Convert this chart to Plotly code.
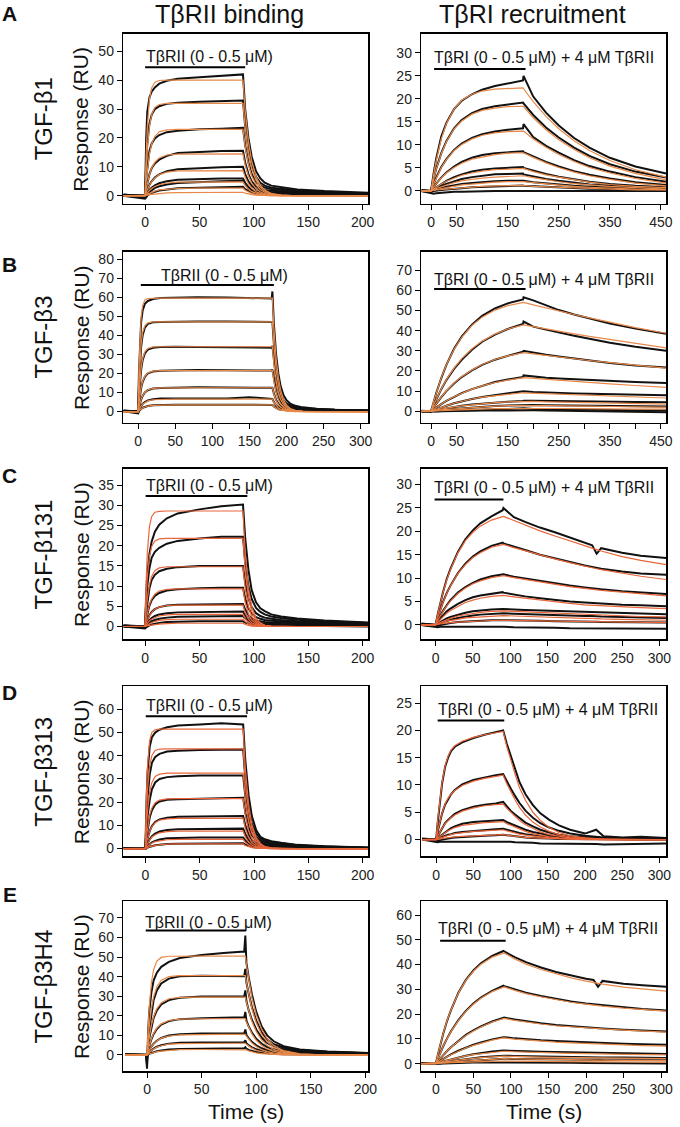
import plotly.graph_objects as go

# ------------------------------------------------------------------ data
# time grids (s)
GL = [-20, 0, 1, 2, 4, 6, 9, 13, 20, 30, 50, 70, 90, 92, 95, 98, 102, 106, 110, 116, 125, 140, 165, 205]
GB = [-20, 0, 1, 2, 4, 6, 9, 13, 20, 30, 50, 80, 120, 150, 180, 181, 183, 186, 189, 192, 196, 200, 205, 212, 222, 240, 265, 310]
GE = [-20, -1, 0, 0.5, 1, 2, 4, 6, 9, 13, 20, 30, 50, 70, 89, 90, 91, 93, 96, 100, 105, 110, 116, 125, 140, 165, 205]
GR450 = [-19, 0, 5, 10, 20, 30, 45, 60, 80, 100, 125, 150, 180, 181, 200, 225, 250, 280, 310, 350, 400, 460]
GR300 = [-19, 0, 3, 6, 10, 15, 20, 30, 40, 50, 60, 75, 90, 91, 105, 120, 140, 160, 180, 200, 210, 216, 222, 250, 275, 309]
GRD = [-19, 0, 2, 5, 8, 12, 16, 20, 25, 35, 50, 65, 80, 90, 95, 100, 106, 112, 120, 130, 140, 152, 165, 180, 200, 215, 225, 250, 275, 309]
GRE = [-19, 0, 3, 6, 10, 15, 20, 30, 40, 50, 60, 75, 90, 91, 105, 120, 140, 160, 180, 200, 210, 216, 222, 250, 275, 307]

# --- A: TGF-b1, TbRII binding
A1_fit = [
    [0,0,14.5,23.7,33.4,37.3,39.3,39.9,40,40,40,40,40,29.6,18.9,12.0,6.6,3.6,2.0,0.8,0.2,0,0,0],
    [0,0,9.4,16.1,24.1,28.1,30.6,31.6,32,32,32,32,32,23.7,15.1,9.6,5.3,2.9,1.6,0.6,0.2,0,0,0],
    [0,0,5.1,9.0,14.5,17.9,20.6,22.1,22.8,23,23,23,23,17.0,10.9,6.9,3.8,2.1,1.2,0.5,0.1,0,0,0],
    [0,0,2.4,4.4,7.4,9.6,11.6,13.1,14.1,14.4,14.5,14.5,14.5,10.7,6.8,4.4,2.4,1.3,0.7,0.3,0.1,0,0,0],
    [0,0,1.1,2.1,3.7,4.9,6.2,7.3,8.2,8.6,8.7,8.7,8.7,6.4,4.1,2.6,1.4,0.8,0.4,0.2,0,0,0,0],
    [0,0,.5,1.0,1.8,2.5,3.2,3.8,4.4,4.7,4.8,4.8,4.8,3.6,2.3,1.4,.8,.4,.2,.1,0,0,0,0],
    [0,0,.3,.5,.9,1.3,1.6,2.0,2.3,2.5,2.6,2.6,2.6,1.9,1.2,.8,.4,.2,.1,0,0,0,0,0],
    [0,0,.1,.2,.4,.5,.7,.9,1.0,1.1,1.2,1.2,1.2,.9,.6,.4,.2,.1,.1,0,0,0,0,0],
]
A1_obs = [
    [0.3,0,20,29,34,36,37.5,38.8,39.8,40.5,41,41.5,42,30,20,13.5,8.5,6,4.5,3.5,3,2.2,1.6,1.0],
    [0.3,0,11,18,25,28,30,31,31.8,32.2,32.5,32.8,33,24,16,10.5,6.5,4.5,3.5,2.8,2.4,1.8,1.3,0.8],
    [0.3,0,6,10,15.5,18,19.8,21,22,22.5,23,23.2,23.5,17.5,11.5,7.5,4.8,3.5,2.8,2.3,2,1.5,1.1,0.7],
    [0.2,0,2.5,4.5,7.5,9.5,11.2,12.5,13.8,14.8,15.2,15.5,15.6,11.5,7.5,5,3.2,2.5,2,1.7,1.5,1.2,0.9,0.6],
    [0.2,0,1.2,2.2,3.8,5,6.3,7.4,8.5,9.2,9.6,9.9,10,7.5,5,3.4,2.3,1.8,1.5,1.3,1.1,0.9,0.7,0.5],
    [0.2,-0.5,0.5,1.1,2,2.8,3.6,4.3,5,5.5,5.8,6,6,4.5,3,2.1,1.5,1.2,1,0.9,0.8,0.7,0.5,0.4],
    [0.1,-0.8,-0.2,0.5,1.3,2,2.7,3.3,3.9,4.4,4.8,5,5.2,3.9,2.6,1.9,1.3,1.1,0.9,0.8,0.7,0.6,0.4,0.3],
    [0,-1,-0.6,0,0.6,1,1.4,1.8,2.2,2.6,2.8,3,3.1,2.3,1.6,1.1,0.8,0.6,0.5,0.4,0.4,0.3,0.2,0.1],
]
# --- A: TGF-b1, TbRI recruitment
A2_fit = [
    [0,0,3.6,6.6,11.3,14.6,17.8,19.7,21.0,21.7,22.1,22.3,22.4,22.2,19.4,16.2,13.5,10.9,8.8,6.6,4.6,3.0],
    [0,0,2.5,4.7,8.1,10.7,13.5,15.2,16.7,17.5,18.0,18.3,18.4,18.3,15.9,13.3,11.1,9.0,7.2,5.4,3.8,2.4],
    [0,0,1.5,2.8,5.1,6.8,8.8,10.1,11.3,12.1,12.6,12.9,13.1,13.0,11.3,9.5,7.9,6.4,5.1,3.9,2.7,1.7],
    [0,0,.8,1.6,2.8,3.9,5.1,6.0,6.9,7.4,7.9,8.2,8.4,8.3,7.3,6.1,5.1,4.1,3.3,2.5,1.7,1.1],
    [0,0,.4,.8,1.5,2.1,2.8,3.4,3.9,4.3,4.6,4.8,4.9,4.9,4.2,3.5,3.0,2.4,1.9,1.4,1.0,.7],
    [0,0,.3,.5,1.0,1.3,1.8,2.2,2.5,2.8,3.0,3.2,3.3,3.3,2.9,2.4,2.0,1.6,1.3,1.0,.7,.4],
    [0,0,.2,.3,.6,.8,1.1,1.3,1.5,1.7,1.9,2.0,2.1,2.0,1.8,1.5,1.2,1.0,.8,.6,.4,.3],
    [0,0,.1,.2,.3,.4,.6,.7,.9,1.0,1.1,1.1,1.2,1.2,1.0,.9,.7,.6,.5,.4,.2,.2],
]
A2_obs = [
    [0.2,0,3.8,7,11.8,14.8,17.8,19.6,21,22,22.8,23.3,24,25,20.5,17,14.2,11.5,9.4,7.2,5.3,3.8],
    [0.1,0,2.6,4.8,8.2,10.8,13.6,15.4,16.9,17.8,18.4,18.8,19.2,19,16.5,13.8,11.6,9.4,7.6,5.8,4.2,2.9],
    [0.1,0,1.5,2.9,5.2,6.9,8.9,10.3,11.5,12.3,12.9,13.3,13.6,14.5,11.7,9.8,8.3,6.7,5.4,4.2,3.0,2.0],
    [0,0,.8,1.6,2.9,4.0,5.3,6.3,7.2,7.8,8.2,8.4,8.6,8.4,7.5,6.3,5.3,4.3,3.5,2.7,1.9,1.3],
    [0,0,.4,.8,1.6,2.2,3.0,3.6,4.2,4.6,4.9,5.1,5.2,5.0,4.4,3.7,3.1,2.5,2.0,1.5,1.1,.8],
    [0,0,.3,.6,1.1,1.5,2.1,2.6,3.0,3.3,3.6,3.7,3.8,3.6,3.1,2.6,2.2,1.8,1.4,1.1,.8,.5],
    [0,0,.2,.3,.6,.9,1.2,1.5,1.7,1.9,2.1,2.2,2.3,2.2,1.9,1.6,1.3,1.1,.9,.7,.5,.3],
    [0,-.3,0,.1,.2,.3,.5,.6,.8,.9,1,1.1,1.2,1.1,1,.8,.7,.6,.5,.4,.3,.2],
    [0,-.5,-.6,-.5,-.4,-.3,-.2,-.2,-.1,0,0,0,0,0,0,0,0,0,0,0,0,0],
]
# --- B: TGF-b3, TbRII binding
B1_fit = [
    [0,0,21.5,35.3,49.7,55.5,58.5,59.3,59.5,59.5,59.5,59.5,59.5,59.5,59.5,59.5,44.1,28.1,17.9,11.4,6.2,3.5,1.6,0.6,0.1,0,0,0],
    [0,0,13.9,23.6,35.4,41.3,45.0,46.5,47,47,47,47,47,47,47,47,34.8,22.2,14.1,9.0,4.9,2.7,1.3,0.5,0.1,0,0,0],
    [0,0,8.3,14.6,22.9,27.7,31.3,33.1,33.9,34,34,34,34,34,34,34,25.2,16.0,10.2,6.5,3.6,2.0,0.9,0.3,0.1,0,0,0],
    [0,0,4.2,7.7,12.6,15.8,18.5,20.3,21.2,21.5,21.5,21.5,21.5,21.5,21.5,21.5,15.9,10.1,6.5,4.1,2.3,1.2,0.6,0.2,0,0,0,0],
    [0,0,2.1,3.8,6.4,8.3,10.0,11.3,12.2,12.4,12.5,12.5,12.5,12.5,12.5,12.5,9.3,5.9,3.8,2.4,1.3,0.7,0.3,0.1,0,0,0,0],
    [0,0,0.9,1.7,2.9,3.9,4.8,5.6,6.2,6.4,6.5,6.5,6.5,6.5,6.5,6.5,4.8,3.1,2.0,1.2,0.7,0.4,0.2,0.1,0,0,0,0],
    [0,0,0.4,0.8,1.4,1.9,2.4,2.9,3.2,3.4,3.5,3.5,3.5,3.5,3.5,3.5,2.6,1.7,1.1,0.7,0.4,0.2,0.1,0,0,0,0,0],
]
B1_obs = [
    [0.5,0,20,33,47,53,56.5,58,59,59.5,59.8,60,59.8,59.6,59.3,63,46,30,20,13.5,8.5,6,4.2,3,2.2,1.5,1,0.6],
    [0.4,0,13,22.5,34,40,44,46,46.8,47,47.2,47.3,47.2,47.1,47,47,35.5,23,15,10,6,4.3,3.2,2.4,1.8,1.3,0.9,0.5],
    [0.3,0,8,14,22,27,30.5,32.5,33.5,33.8,34,33.8,33.6,33.4,33.5,34.5,26,17,11,7.5,4.8,3.4,2.6,2,1.5,1.1,0.8,0.5],
    [0.3,0,4,7.5,12.3,15.5,18.2,20,21,21.4,21.6,21.8,21.7,21.6,21.5,22,16.5,10.8,7.2,5,3.3,2.5,2,1.6,1.2,0.9,0.6,0.4],
    [0.2,0,2,3.7,6.3,8.2,10,11.2,12.1,12.4,12.6,12.7,12.6,12.5,12.4,12.5,9.5,6.2,4.2,2.8,2,1.6,1.3,1.1,0.9,0.7,0.5,0.3],
    [0.2,0,1,1.8,3,4,5,5.8,6.5,6.8,6.9,6.8,6.9,7.5,6.8,6.6,5,3.3,2.3,1.6,1.2,1,0.8,0.7,0.6,0.5,0.4,0.3],
    [0.2,-1,0.3,0.8,1.4,2,2.5,2.9,3.3,3.5,3.6,3.6,3.6,3.6,3.5,3.5,2.7,1.8,1.3,1,0.8,0.7,0.6,0.5,0.4,0.3,0.3,0.2],
]
# --- B: TGF-b3, TbRI recruitment
B2_fit = [
    [0,0,4.8,9.1,16.7,23.1,30.8,36.7,42.6,46.7,50.2,52.4,54.1,54.0,52.8,51.2,49.7,48.0,46.3,44.1,41.5,38.7],
    [0,0,3.1,5.9,11.1,15.7,21.4,26.1,31.0,34.8,38.3,40.8,42.9,42.9,42.0,40.8,39.7,38.4,37.2,35.6,33.7,31.5],
    [0,0,2.0,3.8,7.2,10.2,14.0,17.2,20.5,23.2,25.7,27.5,29.1,29.1,28.5,27.7,26.9,26.1,25.2,24.1,22.8,21.4],
    [0,0,1.0,1.9,3.6,5.2,7.2,9.0,11.0,12.6,14.3,15.5,16.7,16.7,16.3,15.8,15.3,14.8,14.3,13.6,12.8,11.9],
    [0,0,.5,1.0,2.0,2.8,4.0,5.0,6.1,7.0,7.8,8.5,9.2,9.2,9.0,8.7,8.5,8.2,7.9,7.5,7.1,6.6],
    [0,0,.3,.6,1.1,1.6,2.2,2.7,3.3,3.8,4.3,4.7,5.0,5.0,4.9,4.7,4.6,4.4,4.3,4.1,3.8,3.6],
    [0,0,.2,.3,.7,.9,1.3,1.6,2.0,2.3,2.6,2.8,3.0,3.0,2.9,2.8,2.8,2.7,2.6,2.4,2.3,2.1],
    [0,0,.1,.2,.3,.5,.7,.8,1.0,1.1,1.3,1.4,1.5,1.5,1.5,1.4,1.4,1.3,1.3,1.2,1.1,1.1],
]
B2_obs = [
    [0.3,0,4.5,9,16.5,23,31,37,43,47.3,51,53.5,55.5,56.5,55,52.5,50.2,48,46,43.5,41,38.5],
    [0.2,0,3,5.8,11,15.5,21,25.5,30.5,34.5,38,40.8,43.3,44.5,42,40.5,39,37.5,36,34,32,30],
    [0.2,0,2,3.8,7,10,13.8,17,20.3,23,25.6,27.5,29.5,30,29,28,27.2,26.2,25.2,24,22.7,21.7],
    [0.1,0,1,2,3.6,5.2,7.2,9,11,12.7,14.5,15.8,17,17.8,17.2,16.7,16.3,15.9,15.5,15,14.5,14],
    [0.1,0,.5,1,2,2.8,4,5,6.1,7.1,8,8.8,9.6,10,9.6,9.3,9.1,8.9,8.7,8.5,8.2,8],
    [0,0,.3,.6,1.1,1.6,2.2,2.8,3.4,3.9,4.4,4.8,5.1,5.3,5.2,5.1,5,4.9,4.8,4.7,4.6,4.5],
    [0,0,.2,.3,.7,.9,1.3,1.6,2,2.3,2.6,2.9,3.1,3.3,3.1,3,2.9,2.8,2.7,2.6,2.5,2.4],
    [0,-.2,0,.1,.2,.3,.5,.6,.8,.9,1,1.1,1.2,1.5,1.1,1,.9,.8,.7,.6,.5,.4],
    [0,-.3,-.2,-.1,0,0,.1,.2,.3,.4,.5,.5,.6,.7,.5,.4,.3,.2,.1,0,-.2,-.5],
]
# --- C: TGF-b131, TbRII binding
C1_fit = [
    [0,0,11.2,18.1,24.7,27.2,28.3,28.5,28.6,28.6,28.6,28.6,28.6,18.4,9.5,4.9,2.0,.9,.3,.1,0,0,0,0],
    [0,0,7.2,12.0,17.4,19.8,21.2,21.7,21.8,21.8,21.8,21.8,21.8,14.0,7.3,3.7,1.5,.7,.3,.1,0,0,0,0],
    [0,0,3.8,6.7,10.3,12.4,13.8,14.5,14.8,14.8,14.8,14.8,14.8,9.5,4.9,2.5,1.1,.4,.2,0,0,0,0,0],
    [0,0,1.8,3.3,5.4,6.8,8.0,8.8,9.2,9.3,9.3,9.3,9.3,6.0,3.1,1.6,.7,.3,.1,0,0,0,0,0],
    [0,0,.9,1.6,2.7,3.5,4.3,4.8,5.2,5.3,5.3,5.3,5.3,3.4,1.8,.9,.4,.2,.1,0,0,0,0,0],
    [0,0,.4,.8,1.4,1.8,2.2,2.6,2.9,3.0,3.0,3.0,3.0,1.9,1.0,.5,.2,.1,0,0,0,0,0,0],
    [0,0,.2,.4,.7,1.0,1.2,1.5,1.7,1.8,1.8,1.8,1.8,1.2,.6,.3,.1,.1,0,0,0,0,0,0],
    [0,0,.1,.2,.3,.4,.5,.6,.7,.8,.8,.8,.8,.5,.3,.1,.1,0,0,0,0,0,0,0],
]
C1_obs = [
    [0.3,0,8,13,18,21,23.5,25.2,26.8,28,29,29.8,30.2,22,14,9,6,4.5,3.8,3,2.5,2,1.5,1],
    [0.2,0,6,10,14.5,17,18.5,19.5,20.5,21.2,21.8,22.2,22.2,16,10,6.8,4.6,3.6,3,2.5,2.1,1.7,1.3,0.9],
    [0.2,0,3.5,6,9.5,11.5,12.8,13.7,14.3,14.7,15,15,15,11,7,4.8,3.3,2.6,2.2,1.9,1.6,1.3,1,0.7],
    [0.1,0,1.8,3.2,5.2,6.5,7.6,8.3,8.9,9.2,9.5,9.6,9.6,7,4.5,3.2,2.3,1.9,1.6,1.4,1.2,1,0.8,0.6],
    [0.1,0,1,1.7,2.8,3.6,4.3,4.8,5.2,5.4,5.5,5.6,5.6,4.2,2.8,2,1.5,1.3,1.1,1,0.9,0.8,0.6,0.5],
    [0,0,.5,.9,1.6,2.1,2.6,3,3.3,3.5,3.6,3.7,3.7,2.8,1.9,1.4,1.1,.9,.8,.7,.6,.5,.4,.3],
    [0,0,.3,.5,.9,1.3,1.6,1.9,2.2,2.4,2.5,2.6,2.6,2,1.4,1,.8,.7,.6,.5,.4,.4,.3,.2],
    [0,-.5,-.2,0,.3,.5,.7,.9,1.1,1.2,1.3,1.3,1.3,1,.7,.5,.4,.3,.3,.2,.2,.1,.1,0],
]
# --- C: TGF-b131, TbRI recruitment
C2_fit = [
    [0,0,2.3,4.4,6.9,9.6,11.8,15.4,18.0,19.8,21.1,22.4,23.3,23.2,22.3,21.3,20.1,19.0,17.9,16.9,16.4,16.1,15.8,14.6,13.8,12.9],
    [0,0,1.6,3.1,4.8,6.7,8.3,11.0,12.9,14.4,15.4,16.6,17.3,17.2,16.5,15.8,14.9,14.1,13.3,12.5,12.2,12.0,11.8,11.0,10.4,9.7],
    [0,0,1.0,1.9,2.9,4.1,5.1,6.7,7.9,8.8,9.4,10.1,10.5,10.5,10.1,9.7,9.2,8.7,8.2,7.8,7.6,7.5,7.4,7.0,6.6,6.2],
    [0,0,.6,1.1,1.8,2.5,3.1,4.0,4.8,5.3,5.7,6.1,6.3,6.3,6.0,5.7,5.3,4.9,4.6,4.3,4.2,4.2,4.1,3.9,3.7,3.5],
    [0,0,.3,.5,.8,1.2,1.4,1.9,2.2,2.5,2.7,2.9,3.0,3.0,2.9,2.8,2.6,2.5,2.3,2.2,2.1,2.1,2.0,1.9,1.8,1.7],
    [0,0,.2,.3,.5,.8,.9,1.2,1.5,1.6,1.8,1.9,2.0,2.0,1.9,1.8,1.7,1.6,1.5,1.4,1.4,1.4,1.3,1.2,1.1,1.0],
    [0,0,.1,.2,.3,.4,.5,.6,.7,.8,.9,.95,1.0,1.0,.95,.9,.85,.8,.75,.7,.7,.7,.65,.6,.55,.5],
]
C2_obs = [
    [0.3,0,2.3,4.5,7,9.8,12,15.6,18.3,20.2,21.7,23.2,24.5,25,23,22,20.8,19.8,18.7,17.6,17,15.2,16.4,15.4,14.8,14.3],
    [0.2,0,1.6,3.1,4.9,6.8,8.4,11.1,13.1,14.6,15.7,16.9,17.6,17.4,16.8,16,15,14.2,13.5,12.7,12.4,12.2,12,11.4,11,10.7],
    [0.2,0,1,2,3,4.2,5.3,6.9,8.1,9,9.7,10.4,10.9,10.8,10.3,9.9,9.4,8.9,8.4,8,7.8,7.7,7.6,7.2,6.9,6.6],
    [0.1,0,.7,1.3,2.1,2.9,3.5,4.5,5.3,5.9,6.3,6.7,7,6.9,6.5,6.1,5.7,5.3,5,4.8,4.7,4.6,4.5,4.3,4.2,4],
    [0.1,0,.3,.6,1,1.4,1.7,2.2,2.6,2.9,3.1,3.3,3.4,3.4,3.3,3.2,3.1,3,2.9,2.8,2.7,2.7,2.6,2.5,2.4,2.3],
    [0,0,.2,.3,.6,.9,1.1,1.5,1.8,2,2.2,2.4,2.5,2.5,2.4,2.3,2.2,2.1,2,1.9,1.9,1.8,1.8,1.7,1.6,1.5],
    [0,-.3,-.1,0,.2,.3,.4,.6,.7,.8,.9,1,1,1,1,.9,.9,.8,.8,.7,.7,.7,.6,.6,.5,.5],
    [0,-.5,-.5,-.4,-.4,-.3,-.3,-.3,-.3,-.3,-.3,-.3,-.3,-.4,-.5,-.5,-.6,-.6,-.7,-.7,-.7,-.8,-.8,-.8,-.8,-.8],
]
# --- D: TGF-b313, TbRII binding
D1_fit = [
    [0,0,23.2,36.0,46.8,50.1,51.2,51.5,51.5,51.5,51.5,51.5,51.5,34.5,19.0,10.4,4.7,2.1,.9,.3,.1,0,0,0],
    [0,0,15.6,25.5,35.9,40.1,42.3,42.9,43,43,43,43,43,28.8,15.8,8.7,3.9,1.8,.8,.3,0,0,0,0],
    [0,0,9.6,16.3,24.5,28.5,31.1,32.1,32.5,32.5,32.5,32.5,32.5,21.8,12.0,6.6,3.0,1.3,.6,.2,0,0,0,0],
    [0,0,5.2,9.2,14.5,17.5,19.8,20.9,21.4,21.5,21.5,21.5,21.5,14.4,7.9,4.3,2.0,.9,.4,.1,0,0,0,0],
    [0,0,2.6,4.6,7.6,9.5,11.2,12.3,12.8,13,13,13,13,8.7,4.8,2.6,1.2,.5,.2,.1,0,0,0,0],
    [0,0,1.2,2.3,3.8,5.0,6.0,6.8,7.3,7.5,7.5,7.5,7.5,5.0,2.8,1.5,.7,.3,.1,0,0,0,0,0],
    [0,0,.6,1.0,1.8,2.4,3.0,3.4,3.8,4,4,4,4,2.7,1.5,.8,.4,.2,.1,0,0,0,0,0],
    [0,0,.2,.5,.8,1.1,1.4,1.6,1.9,2,2,2,2,1.3,.7,.4,.2,.1,0,0,0,0,0,0],
]
D1_obs = [
    [0.3,0,20,33,44,48,50,51.2,52.3,53,53.5,54,53.5,38,23,14,8,5,4,3.2,2.5,1.6,1,0.5],
    [0.3,0,13,22,32,37,39.5,40.8,41.8,42.2,42.5,42.6,42.7,30,18,11,6.5,4.3,3.4,2.8,2.2,1.4,0.9,0.4],
    [0.2,0,8,14,21,25.5,28.5,30,30.8,31.2,31.5,31.6,31.5,22.5,13.5,8.3,5,3.4,2.7,2.2,1.8,1.2,0.8,0.4],
    [0.2,0,4.8,8.5,13.5,16.5,19,20.3,21,21.3,21.6,21.8,21.9,15.5,9.3,5.8,3.6,2.6,2.1,1.7,1.4,1,0.7,0.3],
    [0.2,0,2.6,4.6,7.6,9.7,11.5,12.6,13.3,13.7,13.9,14,14,10,6,3.8,2.4,1.8,1.5,1.2,1,0.7,0.5,0.3],
    [0.1,0,1.3,2.4,4,5.3,6.5,7.4,8,8.3,8.5,8.6,8.6,6.2,3.8,2.5,1.7,1.3,1.1,.9,.8,.6,.4,.2],
    [0.1,0,.6,1.1,2,2.7,3.3,3.9,4.4,4.6,4.8,4.8,4.8,3.5,2.2,1.5,1,.8,.7,.6,.5,.4,.3,.2],
    [0,0,.2,.5,.8,1.1,1.4,1.7,2,2.1,2.2,2.3,2.3,1.7,1.1,.8,.5,.4,.3,.3,.2,.2,.1,0],
]
# --- D: TGF-b313, TbRI recruitment
D2_fit = [
    [0,0,3.5,7.5,10.5,13.5,15.3,16.4,17.2,18.0,18.7,19.2,19.6,19.8,17,14.5,12,9.5,7.2,5,3.5,2.2,1.3,.7,.3,.2,.1,0,0,0],
    [0,0,1.5,3.3,4.9,6.5,7.6,8.3,9.0,9.9,10.7,11.2,11.6,11.8,10.2,8.8,7.3,5.9,4.5,3.2,2.3,1.5,.9,.5,.2,.1,.1,0,0,0],
    [0,0,.6,1.4,2.1,2.9,3.5,4.0,4.5,5.2,5.8,6.2,6.4,6.5,5.7,5.0,4.2,3.5,2.7,2.0,1.4,.9,.6,.3,.1,.1,0,0,0,0],
    [0,0,.3,.6,.9,1.3,1.6,1.9,2.2,2.6,2.9,3.1,3.2,3.3,2.9,2.6,2.2,1.9,1.5,1.1,.8,.5,.3,.2,.1,0,0,0,0,0],
    [0,0,.1,.3,.4,.6,.8,.9,1.1,1.3,1.5,1.6,1.7,1.8,1.6,1.4,1.2,1.0,.8,.6,.5,.3,.2,.1,.1,0,0,0,0,0],
    [0,0,.1,.1,.2,.3,.4,.4,.5,.6,.7,.8,.85,.9,.8,.7,.6,.5,.4,.3,.25,.2,.1,.1,0,0,0,0,0,0],
]
D2_obs = [
    [0.2,0,3,7,10.3,13.3,15,16.2,17,17.8,18.6,19.2,19.7,20,17.5,15.5,13,10.5,8.3,6.3,4.8,3.6,2.6,1.8,1.1,1.8,.6,.4,.5,.3],
    [0.1,0,1.4,3.2,4.8,6.4,7.5,8.3,9.1,10.1,10.9,11.4,11.8,12,10.6,9.4,8,6.7,5.3,4,3,2.2,1.6,1.1,.7,.5,.4,.3,.3,.2],
    [0.1,0,.6,1.4,2.1,3,3.6,4.1,4.7,5.4,6,6.4,6.6,6.9,6,5.3,4.6,3.9,3.1,2.4,1.8,1.3,.9,.6,.4,.3,.2,.2,.1,.1],
    [0,0,.3,.6,1,1.4,1.8,2.1,2.4,2.9,3.2,3.4,3.5,3.6,3.2,2.9,2.5,2.2,1.8,1.4,1.1,.8,.6,.4,.3,.2,.1,.1,0,0],
    [0,0,.1,.3,.5,.7,.9,1,1.2,1.4,1.6,1.8,1.9,2,1.8,1.6,1.4,1.2,1,.8,.6,.5,.4,.3,.2,.1,.1,0,0,0],
    [0,-.3,-.2,-.1,0,.1,.2,.3,.4,.5,.6,.7,.8,.9,.8,.7,.6,.5,.4,.3,.2,.2,.1,.1,0,0,0,0,0,0],
    [0,-.5,-.5,-.4,-.4,-.4,-.3,-.3,-.3,-.3,-.3,-.3,-.3,-.3,-.4,-.4,-.5,-.5,-.6,-.6,-.7,-.7,-.8,-.8,-.8,-.8,-.9,-.8,-.8,-.7],
]
# --- E: TGF-b3H4, TbRII binding
E1_fit = [
    [0,0,0,7.7,14.2,24.4,37.0,43.5,47.9,49.8,50.4,50.5,50.5,50.5,50.5,50.5,46.2,38.5,29.4,20.6,13.1,8.3,4.8,2.2,.6,0,0],
    [0,0,0,4.2,8.0,14.4,23.7,29.7,34.9,38.2,40.0,40.5,40.5,40.5,40.5,40.5,37.0,30.9,23.6,16.5,10.5,6.7,3.9,1.7,.4,0,0],
    [0,0,0,2.5,4.9,8.9,15.1,19.5,23.7,26.7,28.7,29.4,29.5,29.5,29.5,29.5,27.0,22.5,17.2,12.0,7.6,4.9,2.8,1.3,.3,0,0],
    [0,0,0,1.3,2.6,4.8,8.3,11.0,13.7,15.9,17.6,18.3,18.5,18.5,18.5,18.5,16.9,14.1,10.8,7.5,4.8,3.1,1.8,.8,.2,0,0],
    [0,0,0,.7,1.3,2.4,4.3,5.7,7.2,8.6,9.7,10.3,10.5,10.5,10.5,10.5,9.6,8.0,6.1,4.3,2.7,1.7,1.0,.5,.1,0,0],
    [0,0,0,.3,.7,1.3,2.3,3.1,4.0,4.7,5.5,5.8,6,6,6,6,5.5,4.6,3.5,2.4,1.6,1.0,.6,.3,.1,0,0],
    [0,0,0,.1,.3,.5,.9,1.3,1.7,2.0,2.4,2.7,2.8,2.8,2.8,2.8,2.6,2.1,1.6,1.1,.7,.5,.3,.1,0,0,0],
]
E1_obs = [
    [0.3,0,-7,4,12,22,32,38,42,45,47.5,49.5,51,52,52.8,61,47,40,31,22,14.5,10,7,4.5,2.8,1.8,1],
    [0.3,0,-5,2,7,13,22,28,33,36.5,39,40.2,40.5,40.4,40.2,44,37,31.5,24.5,17.5,11.5,8,5.5,3.8,2.4,1.6,0.9],
    [0.2,0,-3,1.5,4.5,8.5,14.5,18.8,22.8,25.8,28,29.2,29.8,29.8,29.8,33,27.5,23,18,13,8.8,6.2,4.4,3.1,2,1.4,0.8],
    [0.2,0,-1.5,.8,2.5,4.6,8,10.6,13.3,15.5,17.3,18.3,18.8,19,19.2,22,17.5,14.7,11.5,8.3,5.7,4,2.9,2.1,1.4,1,.6],
    [0.1,0,-.5,.5,1.3,2.5,4.3,5.8,7.3,8.7,9.9,10.6,11,11.1,11.1,13,10.2,8.6,6.7,4.9,3.4,2.5,1.8,1.3,.9,.7,.4],
    [0.1,0,0,.3,.7,1.3,2.4,3.3,4.2,5,5.8,6.2,6.4,6.5,6.5,7.5,6,5,3.9,2.9,2,1.5,1.1,.8,.6,.4,.3],
    [0,0,0,.1,.3,.6,1,1.4,1.9,2.3,2.8,3.1,3.3,3.4,3.5,4,3.2,2.6,2,1.5,1.1,.8,.6,.4,.3,.2,.1],
]
# --- E: TGF-b3H4, TbRI recruitment
E2_fit = [
    [0,0,4.1,7.9,12.4,17.4,21.6,28.5,33.6,37.3,40.1,43.0,44.8,44.7,42.3,40.2,38.0,36.2,34.6,33.3,32.7,32.4,32.1,30.9,30.1,29.3],
    [0,0,2.3,4.5,7.1,10.1,12.8,17.4,21.1,24.0,26.4,29.1,31.0,31.0,29.6,28.3,27.0,25.8,24.8,24.0,23.6,23.4,23.2,22.4,21.8,21.2],
    [0,0,1.1,2.2,3.6,5.1,6.6,9.1,11.4,13.2,14.8,16.8,18.3,18.3,17.5,16.8,16.0,15.3,14.8,14.4,14.2,14.1,14.0,13.5,13.1,12.7],
    [0,0,.6,1.2,1.9,2.8,3.6,5.1,6.3,7.4,8.3,9.5,10.4,10.4,9.9,9.5,9.0,8.7,8.4,8.1,8.0,7.9,7.9,7.6,7.3,7.1],
    [0,0,.3,.6,.9,1.4,1.8,2.5,3.1,3.6,4.0,4.6,5.0,5.0,4.8,4.6,4.4,4.2,4.1,4.0,3.9,3.9,3.9,3.7,3.6,3.5],
    [0,0,.2,.3,.6,.8,1.0,1.5,1.8,2.1,2.4,2.7,3.0,3.0,2.9,2.7,2.6,2.5,2.4,2.3,2.3,2.3,2.2,2.2,2.1,2.0],
    [0,0,.1,.2,.4,.5,.7,1.0,1.2,1.4,1.6,1.8,2.0,2.0,1.9,1.8,1.7,1.6,1.55,1.5,1.5,1.45,1.4,1.35,1.3,1.2],
    [0,0,.05,.1,.2,.3,.35,.5,.6,.7,.8,.9,1.0,1.0,.95,.9,.85,.8,.75,.7,.7,.7,.7,.65,.6,.5],
]
E2_obs = [
    [0.2,0,4,7.8,12.3,17.3,21.5,28.6,33.8,37.6,40.5,43.5,45.5,45.3,43,41,38.8,37,35.5,34.3,33.8,31,33.4,32.3,31.7,31],
    [0.1,0,2.3,4.5,7.1,10.2,13,17.6,21.3,24.3,26.7,29.4,31.5,31.3,29.9,28.6,27.3,26.1,25.1,24.3,24,23.7,23.5,22.7,22.1,21.5],
    [0.1,0,1.1,2.2,3.6,5.1,6.6,9.2,11.6,13.4,15,17,18.7,18.6,17.8,17.1,16.3,15.6,15.1,14.6,14.4,14.3,14.2,13.7,13.3,13],
    [0,0,.6,1.2,2,2.9,3.7,5.2,6.5,7.6,8.5,9.8,10.7,10.7,10.2,9.8,9.4,9.1,8.8,8.6,8.5,8.4,8.3,8,7.8,7.6],
    [0,0,.3,.6,.9,1.4,1.8,2.6,3.2,3.8,4.3,4.9,5.3,5.3,5.1,5,4.8,4.7,4.5,4.4,4.3,4.3,4.3,4.1,4,3.9],
    [0,0,.2,.3,.6,.8,1.1,1.6,2,2.3,2.6,2.9,3.2,3.2,3.1,3,2.9,2.8,2.7,2.6,2.6,2.6,2.5,2.5,2.4,2.3],
    [0,0,.1,.2,.4,.5,.7,1,1.2,1.4,1.6,1.8,2,2,1.9,1.9,1.8,1.7,1.7,1.6,1.6,1.6,1.5,1.5,1.4,1.4],
    [0,-.3,-.2,-.1,0,.1,.2,.3,.4,.5,.5,.6,.7,.6,.6,.5,.5,.4,.4,.3,.3,.3,.2,.2,.1,0],
]

# labels and ticks
col_titles = ["TβRII binding", "TβRI recruitment"]
row_labels = ["TGF-β1", "TGF-β3", "TGF-β131", "TGF-β313", "TGF-β3H4"]
panel_letters = ["A", "B", "C", "D", "E"]
inj_text = ["TβRII (0 - 0.5 μM)", "TβRI (0 - 0.5 μM) + 4 μM TβRII"]
y_title = "Response (RU)"
x_title = "Time (s)"
x_ticks_200 = [0, 50, 100, 150, 200]
x_ticks_300 = [0, 50, 100, 150, 200, 250, 300]
x_ticks_450 = [0, 50, 100, 150, 200, 250, 300, 350, 400, 450]
x_text_450 = ["0", "50", "", "150", "", "250", "", "350", "", "450"]

# ------------------------------------------------------------------ layout helpers
W, H = 680, 1127
FONT = "Liberation Sans, Arial, Helvetica, sans-serif"
col_px = [(125, 373), (427, 675)]
row_px = [(33, 203), (251, 422), (468, 639), (686, 856), (901, 1071)]

# per panel: grid, fit, obs, xrange, yrange, yticks, xticks, xtext, inj bar (t0,t1,y), text (x,y), colour
panels = [
    (GL, A1_fit, A1_obs, [-20, 205], [-2.8, 56], list(range(0, 51, 10)), x_ticks_200, None, (0, 92, 44.5), (59, 48.2), "#E8894A"),
    (GR450, A2_fit, A2_obs, [-19, 460], [-2.8, 34.1], list(range(0, 31, 5)), x_ticks_450, x_text_450, (6, 185, 26.5), (222, 28.9), "#E8894A"),
    (GB, B1_fit, B1_obs, [-20, 310], [-5.8, 83.8], list(range(0, 81, 10)), x_ticks_300, None, (3.6, 183, 66.4), (116, 71.2), "#E8894A"),
    (GR450, B2_fit, B2_obs, [-19, 460], [-5.6, 79.1], list(range(0, 71, 10)), x_ticks_450, x_text_450, (6, 185, 60.6), (222, 65.6), "#E8894A"),
    (GL, C1_fit, C1_obs, [-20, 205], [-3.2, 39.1], list(range(0, 36, 5)), x_ticks_200, None, (0.5, 94, 32.3), (59, 35.0), "#E8663A"),
    (GR300, C2_fit, C2_obs, [-19, 309], [-3.1, 33.4], list(range(0, 31, 5)), x_ticks_300, None, (-1.3, 91, 26.8), (146, 29.3), "#E8663A"),
    (GL, D1_fit, D1_obs, [-20.3, 205], [-3.3, 69.9], list(range(0, 61, 10)), x_ticks_200, None, (0.3, 93.6, 57), (59, 61.7), "#E8663A"),
    (GRD, D2_fit, D2_obs, [-19.9, 308.9], [-3.05, 28.05], list(range(0, 26, 5)), x_ticks_300, None, (2, 91.5, 21.8), (150, 23.9), "#E8663A"),
    (GE, E1_fit, E1_obs, [-21.7, 202.4], [-8.2, 78.5], list(range(0, 71, 10)), x_ticks_200, None, (-1.2, 90.6, 63.5), (56, 67.4), "#E8894A"),
    (GRE, E2_fit, E2_obs, [-19.3, 306.6], [-3.0, 65.6], list(range(0, 61, 10)), x_ticks_300, None, (5.7, 93, 49.6), (149.5, 54.6), "#E8894A"),
]

fig = go.Figure()
layout = dict(width=W, height=H, margin=dict(l=0, r=0, t=0, b=0),
              paper_bgcolor="white", plot_bgcolor="white", showlegend=False,
              font=dict(family=FONT, color="#111"))
annotations = []
shapes = []

for i, (grid, fits, obs, xr, yr, yt, xt, xtt, bar, txt, ocol) in enumerate(panels):
    r, c = divmod(i, 2)
    n = i + 1
    xa = "x" if n == 1 else f"x{n}"
    ya = "y" if n == 1 else f"y{n}"
    x0, x1 = col_px[c]
    y0, y1 = row_px[r]
    layout["xaxis" if n == 1 else f"xaxis{n}"] = dict(
        domain=[x0 / W, x1 / W], anchor=ya, range=xr, tickvals=xt,
        ticktext=xtt if xtt else [str(v) for v in xt],
        showline=True, mirror=True, linecolor="black", linewidth=1.6,
        ticks="outside", ticklen=5, tickwidth=1, tickcolor="black",
        tickfont=dict(size=14, color="#222"), showgrid=False, zeroline=False, fixedrange=True)
    layout["yaxis" if n == 1 else f"yaxis{n}"] = dict(
        domain=[1 - y1 / H, 1 - y0 / H], anchor=xa, range=yr, tickvals=yt,
        showline=True, mirror=True, linecolor="black", linewidth=1.6,
        ticks="outside", ticklen=5, tickwidth=1, tickcolor="black",
        tickfont=dict(size=14, color="#222"), showgrid=False, zeroline=False, fixedrange=True)
    for ys in obs:
        fig.add_trace(go.Scatter(x=grid, y=ys, mode="lines", xaxis=xa, yaxis=ya,
                                 line=dict(color="#111111", width=2.0), hoverinfo="skip"))
    for ys in fits:
        fig.add_trace(go.Scatter(x=grid, y=ys, mode="lines", xaxis=xa, yaxis=ya,
                                 line=dict(color=ocol, width=1.2), hoverinfo="skip"))
    # injection bar and label
    shapes.append(dict(type="line", xref=xa, yref=ya, x0=bar[0], x1=bar[1], y0=bar[2], y1=bar[2],
                       line=dict(color="black", width=2)))
    annotations.append(dict(text=inj_text[c], xref=xa, yref=ya, x=txt[0], y=txt[1],
                            showarrow=False, xanchor="center", yanchor="middle",
                            font=dict(size=16, color="#111")))

# column titles
for c, t in enumerate(col_titles):
    cx = [233, 540][c]
    annotations.append(dict(text=t, xref="paper", yref="paper", x=cx / W, y=1 - 13 / H,
                            showarrow=False, xanchor="center", yanchor="middle",
                            font=dict(size=25, color="#111")))
# row labels, letters, y titles
letter_y = [12.5, 264, 474.5, 692.5, 894.5]
for r in range(5):
    cy = (row_px[r][0] + row_px[r][1]) / 2
    annotations.append(dict(text=row_labels[r], xref="paper", yref="paper", x=44 / W, y=1 - cy / H,
                            textangle=-90, showarrow=False, xanchor="center", yanchor="middle",
                            font=dict(size=24, color="#111")))
    annotations.append(dict(text=y_title, xref="paper", yref="paper", x=82 / W, y=1 - cy / H,
                            textangle=-90, showarrow=False, xanchor="center", yanchor="middle",
                            font=dict(size=21, color="#111")))
    annotations.append(dict(text="<b>" + panel_letters[r] + "</b>", xref="paper", yref="paper",
                            x=10 / W, y=1 - letter_y[r] / H, showarrow=False,
                            xanchor="center", yanchor="middle", font=dict(size=21, color="#111")))
# x titles
for c in range(2):
    cx = (col_px[c][0] + col_px[c][1]) / 2
    annotations.append(dict(text=x_title, xref="paper", yref="paper", x=cx / W, y=1 - 1111 / H,
                            showarrow=False, xanchor="center", yanchor="middle",
                            font=dict(size=21, color="#111")))

layout["annotations"] = annotations
layout["shapes"] = shapes
fig.update_layout(**layout)
fig.write_html("out.html", include_plotlyjs=True, config={"displayModeBar": False, "staticPlot": True},
               post_script="document.body.style.margin='0px';")
